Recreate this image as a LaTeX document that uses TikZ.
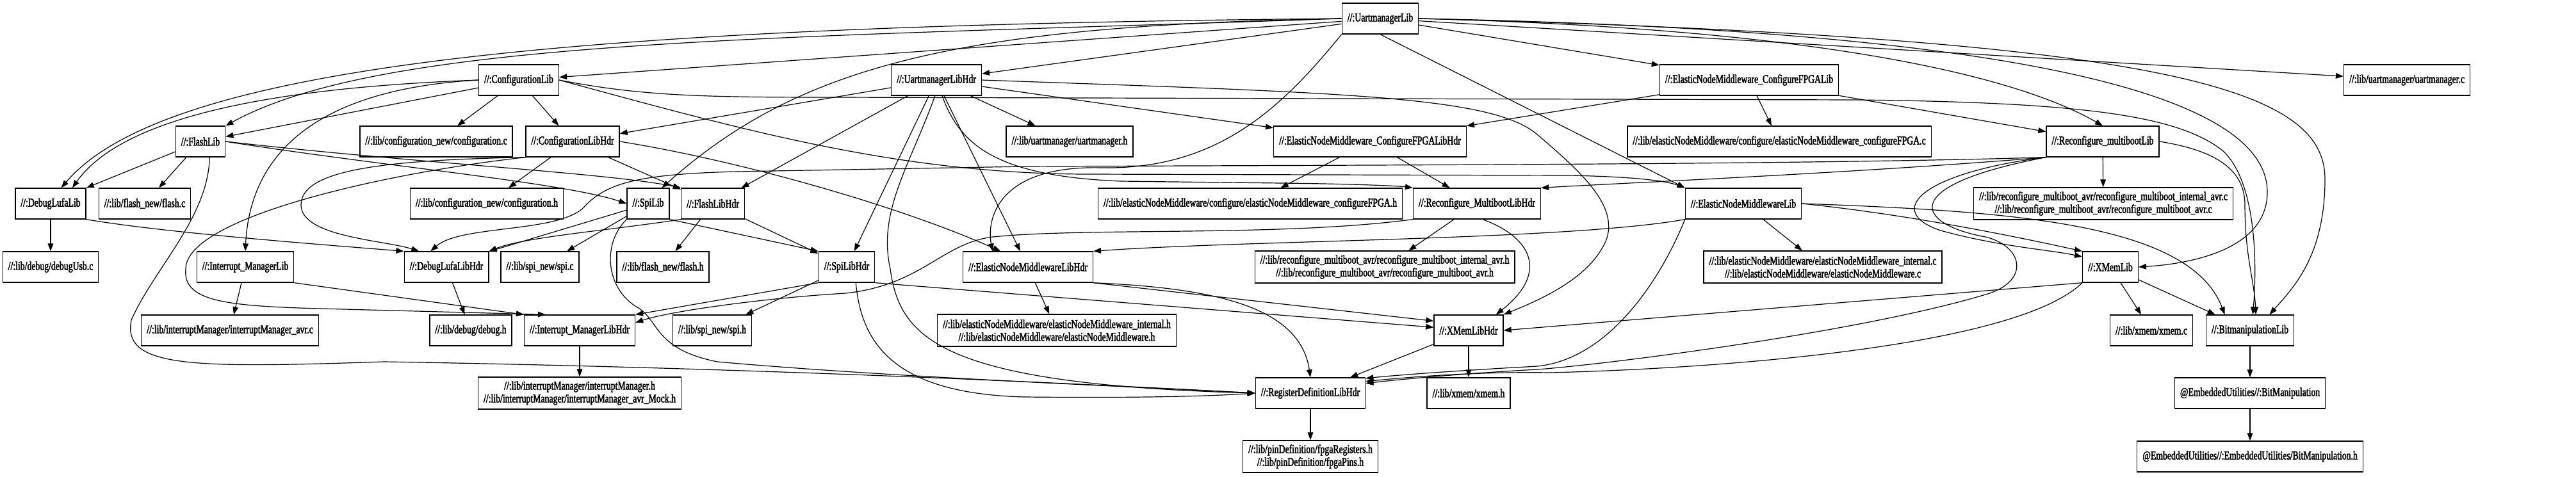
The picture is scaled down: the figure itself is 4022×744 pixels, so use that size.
\documentclass[tikz,border=0pt]{standalone}
\usepackage{fontspec}
\setmainfont{Liberation Serif}[FakeStretch=0.737, FakeBold=2.5]
\usetikzlibrary{arrows.meta}

\begin{document}
\begin{tikzpicture}[
  x=0.75pt, y=-0.75pt,
  font=\fontsize{14}{15}\selectfont,
  tg/.style={draw, line width=1pt, inner xsep=6.4pt, inner ysep=2pt,
             minimum height=36pt, align=center},
  tgtwo/.style={tg, minimum height=37.5pt},
  dep/.style={-{Triangle[length=9pt,width=6.5pt]}, line width=0.9pt}
]
\useasboundingbox (0,0) rectangle (4022,744);
% ----- rank 1 and 2 -----
\node[tg] (uml)  at (2155,29)  {//:UartmanagerLib};
\node[tg] (cl)   at (810,125)  {//:ConfigurationLib};
\node[tg] (umh)  at (1462,125) {//:UartmanagerLibHdr};
\node[tg] (ecl)  at (2731,125) {//:ElasticNodeMiddleware\_ConfigureFPGALib};
\node[tg] (umc)  at (3758,125) {//:lib/uartmanager/uartmanager.c};
% ----- rank 3 -----
\node[tg] (fl)   at (313,221)  {//:FlashLib};
\node[tg] (cfc)  at (681,221)  {//:lib/configuration\_new/configuration.c};
\node[tg] (clh)  at (894,221)  {//:ConfigurationLibHdr};
\node[tg] (umhf) at (1670,221) {//:lib/uartmanager/uartmanager.h};
\node[tg] (ech)  at (2139,221) {//:ElasticNodeMiddleware\_ConfigureFPGALibHdr};
\node[tg] (ecc)  at (2778,221) {//:lib/elasticNodeMiddleware/configure/elasticNodeMiddleware\_configureFPGA.c};
\node[tg] (rml)  at (3283,221) {//:Reconfigure\_multibootLib};
% ----- rank 4 -----
\node[tg] (dll)  at (79,318)   {//:DebugLufaLib};
\node[tg] (flc)  at (226,318)  {//:lib/flash\_new/flash.c};
\node[tg] (cfh)  at (760,318)  {//:lib/configuration\_new/configuration.h};
\node[tg] (spl)  at (1012,318) {//:SpiLib};
\node[tg] (flh)  at (1113,318) {//:FlashLibHdr};
\node[tg] (ecfh) at (1952,318) {//:lib/elasticNodeMiddleware/configure/elasticNodeMiddleware\_configureFPGA.h};
\node[tg] (rmh)  at (2306,318) {//:Reconfigure\_MultibootLibHdr};
\node[tg] (enl)  at (2722,318) {//:ElasticNodeMiddlewareLib};
\node[tgtwo] (rmc) at (3284,318) {//:lib/reconfigure\_multiboot\_avr/reconfigure\_multiboot\_internal\_avr.c\\//:lib/reconfigure\_multiboot\_avr/reconfigure\_multiboot\_avr.c};
% ----- rank 5 -----
\node[tg] (dbc)  at (79,417)   {//:lib/debug/debugUsb.c};
\node[tg] (iml)  at (383,417)  {//:Interrupt\_ManagerLib};
\node[tg] (dlh)  at (697,417)  {//:DebugLufaLibHdr};
\node[tg] (spc)  at (843,417)  {//:lib/spi\_new/spi.c};
\node[tg] (flhf) at (1035,417) {//:lib/flash\_new/flash.h};
\node[tg] (sph)  at (1322,417) {//:SpiLibHdr};
\node[tg] (enh)  at (1605,417) {//:ElasticNodeMiddlewareLibHdr};
\node[tgtwo] (rmhf) at (2162,417) {//:lib/reconfigure\_multiboot\_avr/reconfigure\_multiboot\_internal\_avr.h\\//:lib/reconfigure\_multiboot\_avr/reconfigure\_multiboot\_avr.h};
\node[tgtwo] (enc) at (2846,417) {//:lib/elasticNodeMiddleware/elasticNodeMiddleware\_internal.c\\//:lib/elasticNodeMiddleware/elasticNodeMiddleware.c};
\node[tg] (xml)  at (3295,417) {//:XMemLib};
% ----- rank 6 -----
\node[tg] (imc)  at (359,516)  {//:lib/interruptManager/interruptManager\_avr.c};
\node[tg] (dbh)  at (735,516)  {//:lib/debug/debug.h};
\node[tg] (imh)  at (905,516)  {//:Interrupt\_ManagerLibHdr};
\node[tg] (sphf) at (1112,516) {//:lib/spi\_new/spi.h};
\node[tgtwo] (enhf) at (1650,516) {//:lib/elasticNodeMiddleware/elasticNodeMiddleware\_internal.h\\//:lib/elasticNodeMiddleware/elasticNodeMiddleware.h};
\node[tg] (xmh)  at (2293,516) {//:XMemLibHdr};
\node[tg] (xmc)  at (3359,516) {//:lib/xmem/xmem.c};
\node[tg] (bml)  at (3513,516) {//:BitmanipulationLib};
% ----- rank 7 and 8 -----
\node[tgtwo] (imhf) at (905,614) {//:lib/interruptManager/interruptManager.h\\//:lib/interruptManager/interruptManager\_avr\_Mock.h};
\node[tg] (rdh)  at (2046,614) {//:RegisterDefinitionLibHdr};
\node[tg] (xmhf) at (2293,614) {//:lib/xmem/xmem.h};
\node[tg] (bme)  at (3513,614) {@EmbeddedUtilities//:BitManipulation};
\node[tgtwo] (rdf) at (2046,713) {//:lib/pinDefinition/fpgaRegisters.h\\//:lib/pinDefinition/fpgaPins.h};
\node[tg] (bmh)  at (3513,713) {@EmbeddedUtilities//:EmbeddedUtilities/BitManipulation.h};
% ----- short dependencies -----
\foreach \a/\b in {uml/umc, uml/umh, uml/cl, uml/ecl, uml.south/enl.north west,
  cl/cfc, cl/clh, cl/fl, umh/umhf, umh/ech, umh/clh, umh/flh, umh/sph, umh/enh,
  clh/cfh, clh/flh, ecl/ecc, ecl/ech, ecl/rml, ech/ecfh, ech/rmh,
  fl/flc, fl/dll.north east, dll/dbc, spl/spc, spl/dlh.20, spl.south east/sph.north west,
  flh/flhf, flh/sph, rml/rmc, rmh/rmhf, enl/enc,
  iml/imc, iml.south east/imh.north west, dlh/dbh,
  sph/sphf, sph.south west/imh.north east, enh/enhf, enh.south east/xmh.165,
  sph.south east/xmh.175, xml/xmc, xml/bml, xml.south west/xmh.east,
  xmh/xmhf, xmh/rdh, imh/imhf, rdh/rdf, bml/bme, bme/bmh}{\draw[dep] (\a) -- (\b);}
% ----- UartmanagerLib, long ones -----
\draw[dep] (uml.west) .. controls (1200,60) and (600,60) .. (fl.north east);
\draw[dep] (uml.west) .. controls (900,40) and (260,100) .. (dll.56);
\draw[dep] (uml.west) .. controls (1500,40) and (1250,100) .. (spl.49);
\draw[dep] (uml.east) .. controls (2850,45) and (3150,120) .. (rml.north);
\draw[dep] (uml.east) .. controls (3300,50) and (3540,180) .. (3540,300)
  .. controls (3540,390) and (3420,412) .. (xml.east);
\draw[dep] (uml.east) .. controls (3400,60) and (3630,140) .. (3630,280)
  .. controls (3630,400) and (3580,450) .. (bml.39);
\draw[dep] (uml.south west) .. controls (2000,170) and (1900,265) .. (1720,262)
  .. controls (1560,258) and (1540,340) .. (enh.156);
% ----- ConfigurationLib -----
\draw[dep] (cl.west) .. controls (480,135) and (200,170) .. (dll.36);
\draw[dep] (cl.west) .. controls (480,140) and (390,250) .. (iml.north);
\draw[dep] (cl.east) .. controls (1000,150) and (1100,152) .. (1300,152) -- (2900,156)
  .. controls (3250,160) and (3400,180) .. (3470,235)
  .. controls (3520,280) and (3525,400) .. (bml.80);
\draw[dep] (cl.east) .. controls (1150,200) and (1400,272) .. (1700,272) -- (2450,274)
  .. controls (2550,276) and (2600,282) .. (enl.north west);
% ----- UartmanagerLibHdr -----
\draw[dep] (umh.290) .. controls (1500,230) and (1560,275) .. (1750,283) -- (2000,286)
  .. controls (2100,287) and (2180,290) .. (rmh.north west);
\draw[dep] (umh.east) .. controls (2100,145) and (2330,150) .. (2400,210)
  .. controls (2470,270) and (2540,330) .. (2500,390)
  .. controls (2470,440) and (2400,470) .. (xmh.north east);
\draw[dep] (umh.265) .. controls (1420,260) and (1370,330) .. (1390,420)
  .. controls (1405,530) and (1470,600) .. (rdh.west);
% ----- ConfigurationLibHdr -----
\draw[dep] (clh.south west) .. controls (600,250) and (470,265) .. (470,320)
  .. controls (470,370) and (600,375) .. (dlh.150);
\draw[dep] (clh.south west) .. controls (600,270) and (290,340) .. (290,420)
  .. controls (285,470) and (350,478) .. (500,482) -- (imh.155);
\draw[dep] (clh.east) .. controls (1150,250) and (1400,320) .. (enh.150);
% ----- FlashLib, DebugLufaLib, SpiLib, FlashLibHdr -----
\draw[dep] (fl.east) .. controls (600,260) and (880,285) .. (spl.west);
\draw[dep] (fl.east) .. controls (650,255) and (950,270) .. (flh.north west);
\draw[dep] (fl.300) .. controls (325,340) and (240,420) .. (205,500)
  .. controls (190,575) and (300,575) .. (600,565)
  .. controls (1200,575) and (1700,600) .. (rdh.west);
\draw[dep] (dll.south east) .. controls (250,362) and (450,378) .. (dlh.north west);
\draw[dep] (spl.south west) .. controls (940,380) and (945,450) .. (995,480)
  .. controls (1030,500) and (1020,545) .. (1120,565)
  .. controls (1400,590) and (1800,605) .. (rdh.west);
\draw[dep] (flh.south west) .. controls (950,360) and (820,370) .. (dlh.north east);
% ----- Reconfigure_multibootLib -----
\draw[dep] (rml.south west) .. controls (2900,270) and (2550,285) .. (rmh.north east);
\draw[dep] (rml.east) .. controls (3460,235) and (3505,265) .. (3505,320)
  .. controls (3505,400) and (3520,440) .. (bml.70);
\draw[dep] (rml.south west) .. controls (2800,258) and (2000,258) .. (1600,260) -- (1150,268)
  .. controls (1000,272) and (950,285) .. (915,320)
  .. controls (880,365) and (720,350) .. (dlh.135);
\draw[dep] (rml.south west) .. controls (3000,270) and (2940,330) .. (3030,360)
  .. controls (3120,385) and (3200,390) .. (xml.160);
\draw[dep] (rml.south west) .. controls (2960,290) and (2990,350) .. (3100,370)
  .. controls (3160,385) and (3170,440) .. (3100,460)
  .. controls (2900,520) and (2500,570) .. (2400,577)
  .. controls (2290,583) and (2190,592) .. (rdh.10);
% ----- Reconfigure_MultibootLibHdr, ElasticNodeMiddlewareLib -----
\draw[dep] (rmh.290) .. controls (2390,370) and (2420,425) .. (xmh.30);
\draw[dep] (rmh.south west) .. controls (2000,370) and (1700,355) .. (1550,370)
  .. controls (1470,380) and (1440,445) .. (1320,458)
  .. controls (1200,465) and (1050,485) .. (imh.8);
\draw[dep] (enl.south west) .. controls (2450,375) and (1950,375) .. (enh.north east);
\draw[dep] (enl.east) .. controls (2980,335) and (3150,370) .. (xml.north west);
\draw[dep] (enl.east) .. controls (3150,330) and (3420,350) .. (bml.148);
\draw[dep] (enl.south west) .. controls (2600,420) and (2520,560) .. (2400,572)
  .. controls (2290,578) and (2190,585) .. (rdh.15);
% ----- into RegisterDefinitionLibHdr -----
\draw[dep] (xml.south west) .. controls (3150,540) and (2700,575) .. (2420,582)
  .. controls (2300,580) and (2190,590) .. (rdh.12);
\draw[dep] (enh.south east) .. controls (1900,450) and (2030,480) .. (rdh.north);
\draw[dep] (sph.300) .. controls (1345,540) and (1400,615) .. (1600,620)
  .. controls (1800,622) and (1900,618) .. (rdh.west);
\end{tikzpicture}
\end{document}
